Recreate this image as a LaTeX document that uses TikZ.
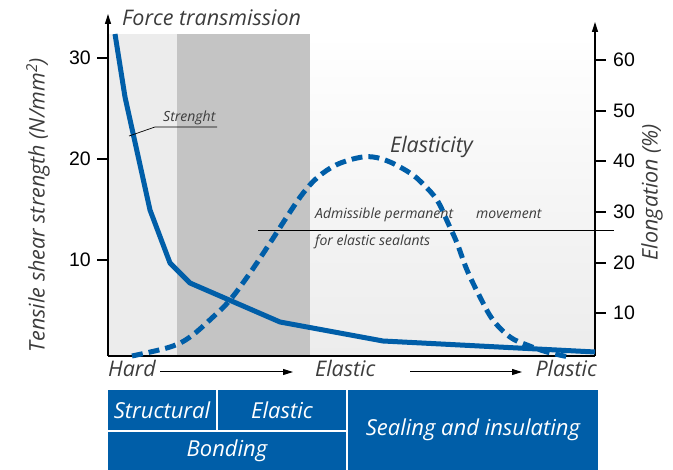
\documentclass[tikz,border=0pt]{standalone}
\usepackage{fontspec}
\usetikzlibrary{arrows.meta}
\newfontfamily\labfont{Open Sans}
\newfontfamily\numfont{Liberation Sans}
\definecolor{blu}{RGB}{0,94,168}
\definecolor{lgray}{RGB}{236,236,236}
\definecolor{dgray}{RGB}{196,196,196}
\definecolor{txt}{RGB}{60,60,60}
\begin{document}
\begin{tikzpicture}[x=1pt,y=-1pt,
  axis/.style={line width=1.2pt,black},
  tip/.style={-{Triangle[length=10pt,width=6pt]}},
  big/.style={font=\labfont\itshape\fontsize{21.5}{25}\selectfont,text=txt,inner sep=0pt},
  small/.style={font=\labfont\itshape\fontsize{14}{16}\selectfont,text=txt,inner sep=0pt},
  numlab/.style={font=\numfont\fontsize{19.5}{22}\selectfont,inner sep=0pt},
  strength/.style={blu,line width=5pt,line join=round},
  elast/.style={blu,line width=5pt,dash pattern=on 11pt off 6pt},
  boxn/.style={fill=blu,inner sep=0pt,outer sep=0pt,text=white,font=\labfont\itshape\fontsize{22}{26}\selectfont},
  thin/.style={line width=0.9pt,black}]
\useasboundingbox (0,0) rectangle (673,470);
% background regions
\fill[lgray] (108,34) rectangle (177,356);
\fill[dgray] (177,34) rectangle (310,356);
\shade[top color=white,bottom color=lgray] (310,34) rectangle (595,356);
% axes
\coordinate (o) at (108,356);
\coordinate (ytop) at (108,14);
\coordinate (xr) at (595,356);
\coordinate (y2top) at (595,22);
\draw[axis,tip] (o) -- (ytop);
\draw[axis,tip] (xr) -- (y2top);
\draw[axis] (o) -- (xr);
\foreach \v/\y in {30/58,20/159,10/260}{
  \coordinate (lt\v) at (97,\y);
  \coordinate (la\v) at (108,\y);
  \draw[axis] (lt\v) -- (la\v);
  \node[numlab,anchor=east] (l\v) at (91,\y) {\v};
}
\foreach \v/\y in {60/60,50/111,40/161,30/212,20/263,10/313}{
  \coordinate (rt\v) at (606,\y);
  \coordinate (ra\v) at (595,\y);
  \draw[axis] (ra\v) -- (rt\v);
  \node[numlab,anchor=west] (r\v) at (613,\y) {\v};
}
% axis titles
\node[big,rotate=90] (ylab) at (38,205) {Tensile shear strength (N/mm\textsuperscript{2})};
\node[big,rotate=90] (y2lab) at (652,192) {Elongation (\%)};
\node[big,anchor=base west] (force) at (122,26) {Force transmission};
% admissible line
\coordinate (adl) at (258,230);
\coordinate (adr) at (614,230);
\draw[thin] (adl) -- (adr);
\node[small,anchor=base west] (adm) at (315,219) {Admissible permanent};
\node[small,anchor=base west] (mov) at (476,219) {movement};
\node[small,anchor=base west] (fes) at (315,246) {for elastic sealants};
% elasticity curve
\draw[elast] plot[smooth,tension=0.6] coordinates {(132,356) (170,347) (190,337) (213,317) (230,300) (250,273) (270,243) (290,212) (304,192) (318,177) (336,165) (357,158) (373,157) (390,162) (410,173) (422,183) (437,200) (448,223) (457,243) (467,270) (480,297) (493,320) (510,337) (527,345) (547,352) (569,357)};
% strength curve
\draw[strength] plot coordinates {(115,34) (125,97) (150,210) (170,263) (190,283) (280,322) (383,341) (595,352)};
\node[big,anchor=base west] (elas) at (390,153) {Elasticity};
% strength label
\node[small,anchor=base west] (strl) at (163,122) {Strenght};
\coordinate (su1) at (217,127);
\coordinate (su2) at (155,127);
\coordinate (su3) at (129,136);
\draw[line width=0.7pt] (su1) -- (su2) -- (su3);
% bottom scale
\node[big,anchor=base west] (hard) at (108,377) {Hard};
\node[big,anchor=base west] (elastic) at (315,377) {Elastic};
\node[big,anchor=base east] (plastic) at (597,377) {Plastic};
\coordinate (a1s) at (160,372);
\coordinate (a1e) at (293,372);
\draw[line width=1pt,tip] (a1s) -- (a1e);
\coordinate (a2s) at (410,372);
\coordinate (a2e) at (522,372);
\draw[line width=1pt,tip] (a2s) -- (a2e);
% boxes
\node[boxn,minimum width=108pt,minimum height=40pt] (struct) at (162,410) {Structural};
\node[boxn,minimum width=128pt,minimum height=40pt] (elbox) at (282,410) {Elastic};
\node[boxn,minimum width=238pt,minimum height=38pt] (bond) at (227,451) {Bonding};
\node[boxn,minimum width=250pt,minimum height=80pt] (seal) at (473,430) {Sealing and insulating};
\end{tikzpicture}
\end{document}
